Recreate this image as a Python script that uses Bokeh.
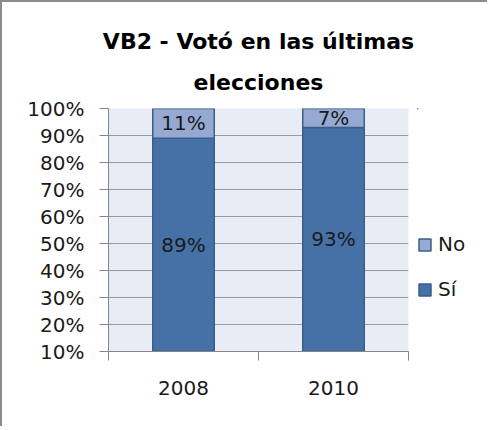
from bokeh.plotting import figure
from bokeh.layouts import row
from bokeh.models import (Range1d, LinearAxis, FixedTicker, Title,
                          PrintfTickFormatter, Legend, LegendItem, ColumnDataSource, SingleIntervalTicker)
from bokeh.embed import file_html
from bokeh.resources import INLINE
from bokeh.core.properties import value

years = ["2008", "2010"]
si = [89, 93]
no = [11, 7]
si_labels = ["89%", "93%"]
no_labels = ["11%", "7%"]
y_start, y_end = 10, 100
title_lines = ["VB2 - Votó en las últimas", "elecciones"]
series_names = ["Sí", "No"]
series_colors = ["#4571A7", "#95A9D2"]

FONT = "DejaVu Sans"
TXT = "#1a1a1a"
AX = "#868686"
EDGE = "#3A5E8C"

n = len(years)
xpos = [i + 0.5 for i in range(n)]

p = figure(width=417, height=426, x_range=Range1d(0, n),
           y_range=Range1d(y_start, y_end), output_backend="svg", toolbar_location=None,
           x_axis_location=None, min_border_left=106, min_border_top=106,
           min_border_right=11, min_border_bottom=77)
p.styles = {"border-left": "2px solid #8c8c8c", "border-top": "2px solid #8c8c8c"}

p.title.text = title_lines[0]
p.title.text_font = FONT
p.title.text_font_size = "22px"
p.title.text_font_style = "bold"
p.title.text_color = "#000000"
p.title.align = "center"
p.title.standoff = 0

t2 = Title(text=title_lines[1], text_font=FONT, text_font_size="22px", text_font_style="bold",
           text_color="#000000", align="center", standoff=28)
p.add_layout(t2, "above")

p.background_fill_color = "#E8ECF5"
p.border_fill_color = "white"
p.outline_line_color = None
p.xgrid.grid_line_color = None
p.ygrid.grid_line_color = "#9a9a9a"
p.ygrid.ticker = SingleIntervalTicker(interval=10)

yax = p.yaxis[0]
yax.ticker = SingleIntervalTicker(interval=10)
yax.formatter = PrintfTickFormatter(format="%d%%")
yax.axis_line_color = AX
yax.major_tick_line_color = AX
yax.major_tick_out = 9
yax.major_tick_in = 0
yax.minor_tick_line_color = None
yax.major_label_text_font = FONT
yax.major_label_text_font_size = "20px"
yax.major_label_text_color = TXT
yax.major_label_standoff = 15

# boundary ticks axis
bticks = list(range(n + 1))
bax = LinearAxis(ticker=FixedTicker(ticks=bticks),
                 major_label_overrides={t: "" for t in bticks})
bax.axis_line_color = AX
bax.major_tick_line_color = AX
bax.major_tick_out = 9
bax.major_tick_in = 0
bax.minor_tick_line_color = None
bax.major_label_standoff = 0
p.add_layout(bax, "below")

# category label axis
cax = LinearAxis(ticker=FixedTicker(ticks=xpos),
                 major_label_overrides={x: y for x, y in zip(xpos, years)})
cax.axis_line_color = None
cax.major_tick_line_color = None
cax.minor_tick_line_color = None
cax.major_label_text_font = FONT
cax.major_label_text_font_size = "20px"
cax.major_label_text_color = TXT
cax.major_label_standoff = 14
p.add_layout(cax, "below")

src = ColumnDataSource(dict(x=xpos, si=si, no=no, si_labels=si_labels, no_labels=no_labels,
                            si_y=[(y_start + s) / 2 for s in si],
                            no_y=[s + v / 2 for s, v in zip(si, no)]))

rs = p.vbar_stack(["si", "no"], x="x", width=0.41, source=src,
                  color=series_colors, line_color=EDGE, line_width=1.5)

p.text(x="x", y="si_y", text="si_labels", source=src, text_font=value(FONT),
       text_font_size="20px", text_color=TXT, text_align="center", text_baseline="middle")
p.text(x="x", y="no_y", text="no_labels", source=src, text_font=value(FONT),
       text_font_size="20px", text_color=TXT, text_align="center", text_baseline="middle")

# legend panel as a companion figure (its frame lines up with the chart frame);
# its ranges keep the helper bars out of view so only the legend shows
q = figure(width=70, height=426, x_range=Range1d(10, 11), y_range=Range1d(-2, -1),
           output_backend="svg", toolbar_location=None,
           x_axis_location=None, y_axis_location=None,
           min_border_left=0, min_border_right=0, min_border_top=106, min_border_bottom=77)
q.styles = {"border-top": "2px solid #8c8c8c"}
q.outline_line_color = None
q.xgrid.grid_line_color = None
q.ygrid.grid_line_color = None
q.background_fill_color = "white"
q.border_fill_color = "white"
leg_r = q.vbar_stack(["si", "no"], x="x", width=0.41, source=src,
                     color=series_colors, line_color=EDGE, line_width=1.5)

legend = Legend(items=[LegendItem(label=series_names[1], renderers=[leg_r[1]]),
                       LegendItem(label=series_names[0], renderers=[leg_r[0]])],
                location=(0, 50), border_line_color=None, background_fill_alpha=0,
                padding=0, margin=0, spacing=21, glyph_width=15, glyph_height=15,
                label_height=20, label_standoff=6, label_text_font=FONT,
                label_text_font_size="20px", label_text_color=TXT)
q.add_layout(legend, "center")

layout = row(p, q, spacing=0)
open("out.html", "w").write(file_html(layout, INLINE))
